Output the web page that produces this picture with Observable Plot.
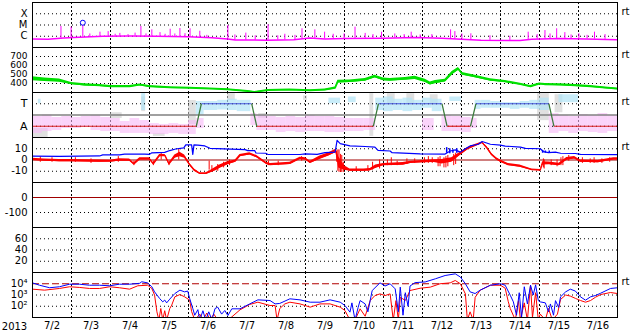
<!DOCTYPE html>
<html><head><meta charset="utf-8">
<script src="https://cdn.jsdelivr.net/npm/d3@7"></script>
<script src="https://cdn.jsdelivr.net/npm/@observablehq/plot@0.6"></script>
<style>
html,body{margin:0;padding:0;background:#fff;overflow:hidden;}
#chart{position:relative;width:633px;height:334px;background:#fff;}
#chart svg{position:absolute;left:0;overflow:visible;}
</style></head><body><div id="chart"></div>
<script>
// ---------- time axis (days since 2013-07-02 00:00) ----------
const yearLabel = "2013";
const dayBounds = [1,2,3,4,5,6,7,8,9,10,11,12,13,14];
const dayMids = [0.5,1.5,2.5,3.5,4.5,5.5,6.5,7.5,8.5,9.5,10.5,11.5,12.5,13.5,14.5];
const dayLabels = ["7/2","7/3","7/4","7/5","7/6","7/7","7/8","7/9","7/10","7/11","7/12","7/13","7/14","7/15","7/16"];

// ---------- panel 1: X-ray flux (W/m2) ----------
const xrayTicks = [1e-6, 1e-5, 1e-4];
const xrayClass = ["C", "M", "X"];
const xrayBase = [[0,5.8e-7],[0.4,5.4e-7],[0.8,7.0e-7],[1.2,8.2e-7],[1.8,1.0e-6],[2.5,1.05e-6],[3.2,1.0e-6],[4.0,9.0e-7],[4.6,7.5e-7],[5.0,5.8e-7],[5.2,4.6e-7],[6.0,4.5e-7],[6.7,4.9e-7],[7.1,7.0e-7],[7.5,5.8e-7],[8.0,6.2e-7],[9.0,6.8e-7],[9.8,7.6e-7],[10.5,6.8e-7],[11.0,5.4e-7],[11.5,4.3e-7],[12.5,4.2e-7],[12.8,5.4e-7],[13.5,6.3e-7],[14.2,5.8e-7],[15,5.0e-7]];
const xraySpikes = [[0.73,7.4e-6],[0.99,6.4e-6],[1.29,9.0e-6],[1.47,1.6e-6],[1.73,2.3e-6],[1.94,2.6e-6],[2.12,1.5e-6],[2.24,1.8e-6],[2.45,1.4e-6],[2.63,1.9e-6],[2.78,7.4e-6],[2.91,1.6e-6],[3.06,3.7e-6],[3.27,2.1e-6],[3.4,1.5e-6],[3.53,4.2e-6],[3.65,1.6e-6],[3.78,4.9e-6],[3.91,1.7e-6],[4.04,4.6e-6],[4.29,2.8e-6],[4.47,1.2e-6],[5.01,9.0e-6],[5.19,1.3e-6],[5.47,1.9e-6],[5.71,1.1e-6],[6.04,1.04e-5],[6.29,1.1e-6],[6.47,1.5e-6],[6.73,1.2e-6],[6.91,4.6e-6],[7.24,3.7e-6],[7.49,2.3e-6],[7.71,1.5e-6],[7.99,1.65e-6],[8.27,6.4e-6],[8.53,1.8e-6],[8.73,1.4e-6],[8.95,2.3e-6],[9.29,1.6e-6],[9.53,1.4e-6],[9.71,2.3e-6],[9.94,1.3e-6],[10.24,1.4e-6],[10.72,3.7e-6],[10.83,2.6e-6],[11.01,1.6e-6],[11.24,1.65e-6],[11.73,1.1e-6],[12.24,1.0e-6],[12.71,2.3e-6],[12.94,1.4e-6],[13.14,3.2e-6],[13.27,1.6e-6],[13.44,4.6e-6],[13.65,2.1e-6],[13.81,1.3e-6],[14.01,1.65e-6],[14.22,1.2e-6],[14.41,2.3e-6],[14.68,1.4e-6]];
const flareMarks = [[1.29,1.6e-5]];

// ---------- panel 2: solar wind speed (km/s): [t, speed, spread] ----------
const windTicks = [400, 500, 600, 700];
const wind = [[0,452,22],[0.31,441,20],[0.69,433,18],[1.0,400,12],[1.34,385,12],[1.72,378,10],[2.0,367,10],[2.49,367,10],[2.75,385,10],[3.0,367,10],[3.52,355,10],[4.03,350,8],[4.55,343,8],[5.0,333,8],[5.52,314,8],[5.7,305,6],[6.04,325,8],[6.6,330,8],[7.12,322,8],[7.5,330,10],[7.76,350,12],[7.83,420,15],[8.14,425,15],[8.53,441,15],[8.78,478,15],[9.0,445,15],[9.17,441,15],[9.56,452,15],[9.81,463,18],[10.07,430,18],[10.2,400,18],[10.33,415,18],[10.58,433,15],[10.76,515,18],[10.92,563,15],[11.02,507,15],[11.35,478,15],[11.74,440,12],[12.12,422,12],[12.51,392,10],[12.77,367,10],[13.0,396,10],[13.15,390,10],[13.54,386,10],[13.92,378,10],[14.31,367,10],[14.69,352,10],[15,341,10]];

// ---------- panel 3: IMF sector (A = away, T = toward) ----------
const sectorTicks = [1, 3];
const sectorNames = {1: "A", 3: "T"};
const sectorMid = [2];
const sectorBreaks = [[0,1],[4.2,1],[4.33,3],[5.62,3],[5.75,1],[8.74,1],[8.87,3],[10.5,3],[10.63,1],[11.23,1],[11.37,3],[13.24,3],[13.37,1],[15,1]];
// angle clouds: [t0, t1, low, high]
const pinkCloud = [[0,0.25,0.36,1.87],[0.25,0.5,0.53,2.0],[0.5,0.75,0.62,1.78],[0.75,1.0,0.8,1.87],[1.0,1.25,0.8,1.78],[1.25,1.5,0.9,1.87],[1.5,1.75,0.62,1.96],[1.75,2.0,0.53,1.78],[2.0,2.25,0.53,1.69],[2.25,2.5,0.36,1.42],[2.5,2.75,0.36,1.69],[2.75,3.0,0.36,1.51],[3.0,3.25,0.27,1.24],[3.25,3.5,0.27,1.16],[3.5,3.75,0.36,1.24],[3.75,4.0,0.27,1.16],[4.0,4.2,0.27,1.51],[4.2,4.4,0.8,1.69],[5.6,5.75,1.07,2.13],[5.75,6.0,0.62,1.96],[6.0,6.25,0.62,1.87],[6.25,6.5,0.44,1.78],[6.5,6.75,0.53,1.87],[6.75,7.0,0.44,1.78],[7.0,7.25,0.53,1.96],[7.25,7.5,0.53,1.87],[7.5,7.75,0.44,1.87],[7.75,8.0,0.44,1.78],[8.0,8.25,0.53,1.69],[8.25,8.5,0.53,1.69],[8.5,8.8,0.62,1.69],[10.0,10.3,0.62,1.69],[10.5,10.75,0.53,1.96],[10.75,11.0,0.53,1.87],[11.0,11.25,0.44,1.78],[11.25,11.4,0.8,1.69],[13.25,13.5,0.36,2.13],[13.5,13.75,0.53,1.96],[13.75,14.0,0.36,1.87],[14.0,14.25,0.53,2.04],[14.25,14.5,0.44,1.96],[14.5,14.75,0.36,2.13],[14.75,15.0,0.53,1.96]];
const blueCloud = [[0.15,0.22,3.0,3.4],[2.8,2.9,2.4,3.9],[4.2,4.4,2.0,3.2],[4.4,4.75,2.4,3.2],[4.75,5.0,2.45,3.3],[5.0,5.25,2.4,3.4],[5.25,5.6,2.3,3.3],[7.6,7.9,3.0,3.5],[8.1,8.3,3.1,3.6],[8.8,9.0,2.4,3.5],[9.0,9.25,2.3,3.6],[9.25,9.5,2.4,3.4],[9.5,9.75,2.3,3.5],[9.75,10.0,2.4,3.3],[10.0,10.25,2.6,3.5],[10.25,10.5,2.3,3.4],[10.7,11.0,3.2,3.6],[11.35,11.5,2.5,3.3],[11.5,11.75,2.6,3.3],[11.75,12.0,2.6,3.2],[12.0,12.25,2.6,3.1],[12.25,12.5,2.5,3.1],[12.5,12.75,2.6,3.2],[12.75,13.0,2.5,3.3],[13.0,13.25,2.4,3.5],[13.5,14.0,3.1,3.8]];
const grayCloud = [[0,0.4,0,0.8],[2.0,2.3,1.69,2.2],[2.8,2.9,2.3,3.6],[3.1,3.4,0.09,0.36],[4.0,4.2,1.16,3.29],[5.0,5.2,3.3,3.9],[5.8,6.0,1.7,2.13],[6.95,7.05,3.3,3.7],[8.65,8.75,0.1,3.9],[9.1,9.3,2.9,3.9],[9.6,9.8,2.9,3.9],[10.2,10.4,2.9,3.8],[12.95,13.25,1.5,3.9],[13.4,13.6,2.2,3.8]];

// ---------- panel 4: IMF Bt (blue) and Bz (red), nT ----------
const bTicks = [-10, 0, 10];
const bGrid = [-10, 10];
const bZero = [0];
const bt = [[0,3.5],[0.69,3.3],[1.72,3.6],[1.8,4.5],[2.23,4.6],[2.36,5.2],[2.88,5.2],[3.0,5.0],[3.06,6.4],[3.39,6.8],[3.52,8.4],[3.67,9.8],[3.88,10.8],[3.93,13.5],[4.08,13.5],[4.11,5],[4.14,13.5],[4.24,13.2],[4.42,12.5],[4.55,10.4],[5.45,9.2],[5.52,8.3],[5.7,8.3],[5.73,6.2],[5.98,6.0],[6.04,4.9],[6.86,4.9],[6.99,5.4],[7.3,5.0],[7.5,6.5],[7.76,7.0],[7.81,17.5],[7.89,14.5],[8.14,12.5],[8.53,12],[8.78,11.5],[8.86,8.5],[9.17,8.0],[9.22,6.5],[9.94,5.5],[10.58,5.3],[10.71,8],[10.84,9],[10.97,7],[11.1,10],[11.22,12.5],[11.43,14],[11.53,16.4],[11.74,14],[12.0,13.2],[12.12,12.4],[12.51,11.5],[12.64,10.4],[13.02,10],[13.1,7.5],[13.23,6.5],[13.41,7],[13.54,6],[13.92,5.8],[14.05,5],[15,4.8]];
const btNoise = [[10.62,6,11],[10.7,5.5,10],[10.78,6,9],[10.88,6,10],[13.08,6,8.5],[13.15,6,8],[13.25,6.2,8]];
// Bz: [t, value, spread]
const bz = [[0,0.5,1],[0.3,0,1],[0.69,-0.5,1],[1.0,-0.5,1],[1.72,-1,1],[2.0,-1,0.8],[2.23,0,1.2],[2.49,0,1],[2.6,-3.5,0.8],[2.75,1,1],[3.0,1,1],[3.1,-3.5,0.8],[3.26,4,1],[3.4,4,1],[3.5,-3.5,0.8],[3.65,3,1.5],[3.78,5,2],[3.9,3,1.5],[4.03,-4,1],[4.15,-9,1],[4.29,-12,0.6],[4.45,-12,0.6],[4.55,-10.5,1],[4.7,-8,1.5],[4.8,-6,1.5],[5.0,-3,1.5],[5.2,-1,1],[5.32,4,1],[5.57,5.5,1],[5.75,3,1],[6.0,-3,1],[6.1,-4,1],[6.6,-3,1],[6.86,1.5,1],[7.0,1,1],[7.12,-2,1],[7.37,2,1.5],[7.6,5,1.5],[7.78,8,1.5],[7.85,-2,5],[8.0,-7,2],[8.14,-9,1],[8.5,-9,1],[8.66,-8.5,1],[8.8,-6,1.5],[9.0,-4,1],[9.5,-3.5,1.2],[9.7,-2,1],[10.0,-1.5,1],[10.3,-1,1.2],[10.5,-1.5,2],[10.75,0,2],[10.95,5,1.5],[11.15,10,1],[11.35,13,0.8],[11.53,15.5,0.6],[11.65,11,1],[11.77,5,1],[11.9,1,1],[12.0,-1,1],[12.2,-4,1],[12.5,-5.5,1],[12.8,-8.5,0.6],[13.02,-9,0.6],[13.08,-3,1.5],[13.25,-3,1.2],[13.5,-4,1.2],[13.7,1,1.2],[13.9,2,1.2],[14.05,-1,1],[14.5,-1.5,1],[14.9,1,1],[15,1,1]];
const bzSpikes = [[0.2,-2,3],[0.5,-2,2],[1.1,-2,2],[1.5,-3,1],[2.2,-2,3],[2.6,-5,-1],[3.1,-5,-1],[3.3,0,6],[3.5,-5,-1],[3.75,0,9.6],[4.53,-9,-1],[4.6,-11,-5],[4.75,-10,-4],[4.9,-7,-2],[5.05,-5,0],[6.05,-5,-1],[6.3,-5,-1],[6.9,-1,3],[7.8,-2,8],[7.83,-10,9],[7.86,-11,9],[7.9,-11,5],[7.93,-11,4],[7.97,-11,-2],[8.3,-10,-6],[8.6,-10,-5],[8.72,-9,-2],[8.9,-8,0],[9.1,-5,0],[9.2,-5,2],[9.35,-5,-1],[9.6,-4,1],[9.8,-3,1],[10.05,-3,2],[10.15,-3,3],[10.25,-3,2],[10.4,-6,2],[10.45,-6,3],[10.55,-7,2],[10.6,-7,3],[10.65,-6,4],[10.8,-5,5],[10.85,-4,6],[13.1,-7,1],[13.12,-8,0],[13.3,-5,0],[13.45,-6,0],[13.55,-5,2],[13.6,-5,3],[13.75,-1,4],[14.1,-3,2],[14.3,-3,1],[14.4,-3,2],[14.6,-3,1],[14.8,-2,2]];

// ---------- panel 5: Dst (nT) ----------
const dstTicks = [-100, 0];
const dstGrid = [-100];
const dstZero = [0];

// ---------- panel 6 ----------
const p6Ticks = [20, 40, 60];

// ---------- panel 7: electron flux ----------
const elecTicks = [1e2, 1e3, 1e4];
const elecTickLabels = ["10²", "10³", "10⁴"];
const elecGrid = [1e2, 1e3];
const elecAlert = [1e4];
const elecBlue = [[0,1.2e4],[0.18,7.4e3],[0.44,4.4e3],[0.69,5.4e3],[0.95,9.1e3],[1.21,9.1e3],[1.46,7.4e3],[1.72,7.4e3],[1.98,6.6e3],[2.23,9.1e3],[2.49,9.1e3],[2.75,1.1e4],[2.8,1.5e4],[2.95,1.2e4],[3.06,5.4e3],[3.13,1.9e3],[3.26,490],[3.34,245],[3.39,355],[3.44,200],[3.52,430],[3.65,1350],[3.78,2700],[3.9,1900],[3.98,2240],[4.03,490],[4.11,63],[4.16,16],[4.24,50],[4.29,6],[4.37,40],[4.44,6],[4.52,32],[4.6,6],[4.68,63],[4.75,83],[4.85,20],[4.93,42],[5.01,15],[5.11,59],[5.32,59],[5.57,162],[5.78,370],[6.09,324],[6.22,162],[6.34,178],[6.6,457],[6.86,370],[7.12,229],[7.37,229],[7.63,370],[7.89,229],[8.01,117],[8.14,30],[8.19,200],[8.27,6],[8.35,79],[8.4,324],[8.53,162],[8.6,32],[8.71,2500],[8.91,1.2e4],[9.04,6300],[9.17,1e4],[9.3,3500],[9.38,32],[9.43,5000],[9.5,16],[9.56,1600],[9.63,100],[9.68,6300],[9.81,1.26e4],[10.07,1.45e4],[10.33,2.75e4],[10.58,5.4e4],[10.84,7.6e4],[10.97,4e4],[11.1,1e4],[11.22,1900],[11.35,1350],[11.48,2700],[11.74,7400],[12.0,1e4],[12.12,7400],[12.25,950],[12.33,245],[12.41,16],[12.48,1600],[12.54,10],[12.61,5400],[12.69,160],[12.77,7400],[12.84,1000],[12.9,8000],[12.97,316],[13.02,245],[13.15,200],[13.23,32],[13.28,160],[13.36,16],[13.41,316],[13.49,79],[13.54,690],[13.67,1900],[13.79,3300],[13.92,2240],[14.05,690],[14.18,347],[14.31,690],[14.44,912],[14.57,1450],[14.82,3800],[15,4400]];
const elecRed = [[0,3300],[0.31,2700],[0.69,3800],[0.95,5400],[1.21,4700],[1.46,3800],[1.72,3800],[1.98,5400],[2.23,4400],[2.49,3300],[2.7,6600],[2.95,7400],[3.06,3800],[3.13,980],[3.19,32],[3.24,6],[3.29,63],[3.34,6],[3.39,40],[3.44,6],[3.52,63],[3.57,126],[3.65,690],[3.78,1100],[3.9,690],[4.03,347],[4.08,34],[4.16,6],[4.29,20],[4.37,6],[4.47,25],[4.55,6],[4.65,20],[4.75,6],[5.06,8],[5.32,48],[5.57,145],[5.78,229],[6.09,117],[6.22,117],[6.27,6],[6.34,63],[6.47,162],[6.6,229],[6.86,162],[7.12,83],[7.37,162],[7.63,162],[7.89,83],[8.01,42],[8.14,6],[8.27,6],[8.4,59],[8.53,13],[8.66,324],[8.78,890],[8.91,1260],[9.04,890],[9.17,1260],[9.25,6],[9.32,316],[9.38,6],[9.43,630],[9.56,324],[9.68,2500],[9.94,4000],[10.2,5000],[10.45,1e4],[10.71,1.2e4],[10.84,1.95e4],[10.97,1e4],[11.1,1260],[11.15,6],[11.22,32],[11.3,6],[11.35,630],[11.48,2700],[11.74,7400],[12.0,7400],[12.12,4000],[12.2,250],[12.25,63],[12.38,6],[12.46,316],[12.51,6],[12.61,200],[12.69,6],[12.77,7400],[12.82,10],[12.9,1600],[12.97,6],[13.02,20],[13.15,6],[13.23,63],[13.33,6],[13.46,20],[13.54,400],[13.67,1000],[13.79,800],[13.92,500],[14.05,324],[14.18,229],[14.31,324],[14.44,650],[14.57,1100],[14.82,1660],[15,1350]];

// ---------- drawing ----------
const FONT = "'DejaVu Sans', sans-serif";
const MAGENTA = "#ff00ff";
const root = document.getElementById("chart");
const baseInterp = t => {
  const i = Math.max(1, d3.bisector(d => d[0]).left(xrayBase, t));
  const a = xrayBase[i - 1], b = xrayBase[Math.min(i, xrayBase.length - 1)];
  const f = b[0] === a[0] ? 0 : (t - a[0]) / (b[0] - a[0]);
  return Math.pow(10, Math.log10(a[1]) + f * (Math.log10(b[1]) - Math.log10(a[1])));
};
const dotted = v => Plot.ruleY(v, {stroke: "#000", strokeDasharray: "1,3"});
const rt = y => Plot.text(["rt"], {x: 15, y: y, text: d => d, dx: 4, dy: -2, textAnchor: "start", fontSize: 10, fill: "#000"});

function makePanel(top, yOpts, marks, xOpts, extraBottom, fontSize) {
  const mb = extraBottom || 0;
  const svg = Plot.plot({
    width: 633, height: 47 + mb,
    marginLeft: 32, marginRight: 16, marginTop: 1, marginBottom: 1 + mb,
    style: {background: "none", fontFamily: FONT, fontSize: fontSize || "10px", color: "#000", overflow: "visible"},
    x: Object.assign({domain: [0, 15]}, xOpts || {axis: null}),
    y: Object.assign({tickSize: 0, tickPadding: 5, label: null}, yOpts),
    marks: [
      Plot.ruleX(dayBounds, {stroke: "#000", strokeDasharray: "2,2"}),
      ...marks,
      Plot.frame({stroke: "#000"})
    ]
  });
  svg.style.top = (top - 1) + "px";
  root.appendChild(svg);
}

// panel 1
makePanel(2, {type: "log", domain: [1e-7, 1e-3], ticks: xrayTicks, tickFormat: d => xrayClass[Math.round(Math.log10(d)) + 6]}, [
  dotted(xrayTicks),
  Plot.ruleX(xraySpikes, {x: d => d[0], y1: d => baseInterp(d[0]), y2: d => d[1], stroke: MAGENTA, strokeWidth: 1, clip: true}),
  Plot.line(xrayBase, {x: d => d[0], y: d => d[1], stroke: MAGENTA, strokeWidth: 1.5, clip: true}),
  Plot.dot(flareMarks, {x: d => d[0], y: d => d[1], r: 2.5, stroke: "#0000ff", fill: "none", strokeWidth: 1}),
  rt(1e-4)
]);

// panel 2
makePanel(47, {domain: [300, 800], ticks: windTicks, tickFormat: d => String(d)}, [
  dotted(windTicks),
  Plot.areaY(wind, {x: d => d[0], y1: d => d[1] - d[2], y2: d => d[1] + d[2], fill: "#00e000", clip: true}),
  Plot.line(wind, {x: d => d[0], y: d => d[1], stroke: "#00e000", strokeWidth: 1.5, clip: true}),
  rt(700)
], null, 0, "9px");

// panel 3
const segs = d3.pairs(sectorBreaks).map(([a, b]) => ({a, b, kind: a[1] === b[1] ? (a[1] === 1 ? "A" : "T") : "R"}));
const segMark = (kind, color) => Plot.link(segs.filter(s => s.kind === kind), {x1: s => s.a[0], y1: s => s.a[1], x2: s => s.b[0], y2: s => s.b[1], stroke: color, strokeWidth: 1.2});
const cloud = (data, color, op) => Plot.rect(data, {x1: d => d[0], x2: d => d[1], y1: d => d[2], y2: d => d[3], fill: color, fillOpacity: op, clip: true});
makePanel(92, {domain: [0, 4], ticks: sectorTicks, tickFormat: d => sectorNames[d]}, [
  cloud(grayCloud, "#cccccc", 0.6),
  cloud(pinkCloud, "#f6b8f6", 0.6),
  cloud(blueCloud, "#b0e4f6", 0.7),
  dotted(sectorTicks),
  Plot.ruleY(sectorMid, {stroke: "#808080", strokeWidth: 1.5}),
  segMark("A", "#dd2020"),
  segMark("T", "#4455dd"),
  segMark("R", "#3a7a3a"),
  rt(3)
], null, 0, "11px");

// panel 4
makePanel(137, {domain: [-20, 20], ticks: bTicks, tickFormat: d => String(d)}, [
  dotted(bGrid),
  Plot.ruleY(bZero, {stroke: "#a00000", strokeWidth: 1}),
  Plot.areaY(bz, {x: d => d[0], y1: d => d[1] - d[2], y2: d => d[1] + d[2], fill: "#ff0000", clip: true}),
  Plot.ruleX(bzSpikes, {x: d => d[0], y1: d => d[1], y2: d => d[2], stroke: "#ff0000", strokeWidth: 1, clip: true}),
  Plot.line(bz, {x: d => d[0], y: d => d[1], stroke: "#ff0000", strokeWidth: 1.2, clip: true}),
  Plot.ruleX(btNoise, {x: d => d[0], y1: d => d[1], y2: d => d[2], stroke: "#0000ff", strokeWidth: 1.5, clip: true}),
  Plot.line(bt, {x: d => d[0], y: d => d[1], stroke: "#0000ff", strokeWidth: 1.2, clip: true}),
  rt(10)
]);

// panel 5
makePanel(182, {domain: [-200, 100], ticks: dstTicks, tickFormat: d => String(d)}, [
  dotted(dstGrid),
  Plot.ruleY(dstZero, {stroke: "#a00000", strokeWidth: 1})
]);

// panel 6
makePanel(227, {domain: [0, 80], ticks: p6Ticks, tickFormat: d => String(d)}, [
  dotted(p6Ticks)
]);

// panel 7
makePanel(272, {type: "log", domain: [10, 1e5], ticks: elecTicks, tickFormat: d => elecTickLabels[Math.round(Math.log10(d)) - 2]}, [
  dotted(elecGrid),
  Plot.ruleY(elecAlert, {stroke: "#b00000", strokeWidth: 1, strokeDasharray: "7,3"}),
  Plot.line(elecRed, {x: d => d[0], y: d => d[1], stroke: "#ff0000", strokeWidth: 1, clip: true}),
  Plot.line(elecBlue, {x: d => d[0], y: d => d[1], stroke: "#0000ff", strokeWidth: 1, clip: true}),
  Plot.text([yearLabel], {frameAnchor: "bottom-left", text: d => d, dx: -18, dy: 9, textAnchor: "middle", lineAnchor: "middle", fontSize: 10, fill: "#000"}),
  rt(1e4)
], {axis: "bottom", ticks: dayMids, tickFormat: d => dayLabels[Math.round(d - 0.5)], tickSize: 0, tickPadding: 4, label: null}, 16);
</script>
</body></html>
